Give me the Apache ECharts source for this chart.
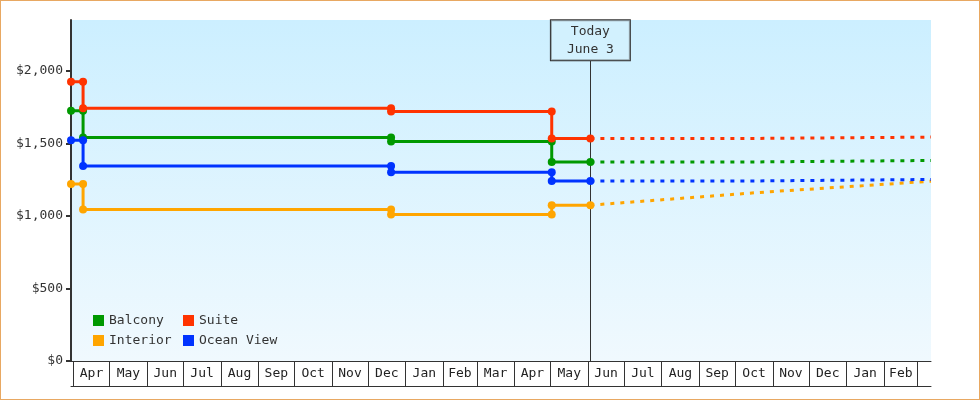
<!DOCTYPE html>
<html lang="en">
  <head>
    <meta charset="UTF-8" />
    <title>Cabin prices</title>
    <style>
      html,
      body {
        margin: 0;
        padding: 0;
        background: #fff;
      }
      .wrap {
        position: relative;
        width: 980px;
        height: 400px;
      }
      #chart {
        width: 980px;
        height: 400px;
      }
      .frame {
        position: absolute;
        left: 0;
        top: 0;
        width: 980px;
        height: 400px;
        box-sizing: border-box;
        border: 1px solid #e8a862;
        pointer-events: none;
      }
    </style>
  </head>
  <body>
    <div class="wrap">
      <div id="chart"></div>
      <div class="frame"></div>
    </div>
    <script src="https://cdn.jsdelivr.net/npm/echarts@6/dist/echarts.min.js"></script>
    <script>
      // price history (step changes) up to today
      const priceDates = ["2021-03-30", "2021-04-09", "2021-04-09", "2021-12-20", "2021-12-20", "2022-05-02", "2022-05-02", "2022-06-03"];
      const balcony = [1724, 1724, 1541, 1541, 1513, 1513, 1372, 1372];
      const suite = [1924, 1924, 1741, 1741, 1720, 1720, 1534, 1534];
      const interior = [1219, 1219, 1044, 1044, 1010, 1010, 1074, 1074];
      const oceanView = [1522, 1522, 1343, 1343, 1301, 1301, 1241, 1241];

      // projection after today (dotted)
      const forecastDates = ["2022-06-03", "2022-10-20", "2022-10-21", "2023-03-12"];
      const balconyFc = [1372, 1372, 1382, 1382];
      const suiteFc = [1534, 1534, 1543, 1543];
      const interiorFc = [1074, 1161, 1161, 1239];
      const oceanViewFc = [1241, 1241, 1251, 1251];

      const today = "2022-06-03";
      const xStart = "2021-03-30";
      const xEnd = "2023-03-12";
      const yTicks = [0, 500, 1000, 1500, 2000];
      const monthNames = ["Jan", "Feb", "Mar", "Apr", "May", "Jun", "Jul", "Aug", "Sep", "Oct", "Nov", "Dec"];

      const font = "DejaVu Sans Mono";
      const ink = "#333";

      function ts(s) {
        const p = s.split("-").map(Number);
        return new Date(p[0], p[1] - 1, p[2]).getTime();
      }

      // month boundaries Apr 2021 .. Mar 2023, labels centred in each box
      const monthStarts = [];
      for (let i = 0; i < 24; i++) monthStarts.push(new Date(2021, 3 + i, 1).getTime());
      const monthMids = [];
      for (let i = 0; i < monthStarts.length - 1; i++) monthMids.push((monthStarts[i] + monthStarts[i + 1]) / 2);

      const zip = (xs, ys) => xs.map((x, i) => [ts(x), ys[i]]);

      const names = ["Balcony", "Suite", "Interior", "Ocean View"];
      const colors = ["#009900", "#ff3300", "#ffa500", "#0033ff"];
      const actual = [balcony, suite, interior, oceanView];
      const projected = [balconyFc, suiteFc, interiorFc, oceanViewFc];

      const series = [];
      names.forEach((name, i) => {
        series.push({
          name: name,
          type: "line",
          data: zip(priceDates, actual[i]),
          color: colors[i],
          symbol: "circle",
          symbolSize: 8,
          lineStyle: { width: 3 },
          clip: false,
          z: 5,
        });
      });
      names.forEach((name, i) => {
        series.push({
          name: name,
          type: "line",
          data: zip(forecastDates, projected[i]),
          color: colors[i],
          symbol: "none",
          lineStyle: { width: 3, type: [4, 6] },
          clip: false,
          z: 3,
        });
      });
      // today marker
      series.push({
        type: "line",
        data: [],
        silent: true,
        z: 2,
        markLine: {
          symbol: "none",
          silent: true,
          lineStyle: { color: ink, width: 1, type: "solid" },
          label: {
            position: "end",
            distance: 0,
            formatter: "Today\nJune 3",
            color: ink,
            fontFamily: font,
            fontSize: 13,
            lineHeight: 18,
            padding: [2, 16],
            borderColor: ink,
            borderWidth: 1,
            backgroundColor: "rgba(214,241,253,0.6)",
          },
          data: [[{ coord: [ts(today), 0] }, { coord: [ts(today), 2072] }]],
        },
      });

      const chart = echarts.init(document.getElementById("chart"));
      chart.setOption({
        animation: false,
        grid: {
          left: 71,
          top: 20,
          right: 49,
          bottom: 39,
          show: true,
          borderWidth: 0,
          backgroundColor: {
            type: "linear",
            x: 0,
            y: 0,
            x2: 0,
            y2: 1,
            colorStops: [
              { offset: 0, color: "#ccefff" },
              { offset: 1, color: "#f0f9fe" },
            ],
          },
        },
        legend: {
          data: names,
          left: 93,
          top: 314,
          padding: 0,
          width: 200,
          itemWidth: 11,
          itemHeight: 11,
          itemGap: 7,
          icon: "rect",
          textStyle: { fontFamily: font, fontSize: 13, color: ink, width: 67, lineHeight: 12 },
        },
        xAxis: [
          {
            type: "value",
            min: ts(xStart),
            max: ts(xEnd),
            axisLine: { show: true, lineStyle: { color: ink, width: 1 } },
            axisTick: { show: true, customValues: monthStarts, length: 25, lineStyle: { color: ink, width: 1 } },
            axisLabel: {
              customValues: monthMids,
              formatter: (v) => monthNames[new Date(v).getMonth()],
              margin: 6,
              fontFamily: font,
              fontSize: 13,
              color: "#222",
            },
            splitLine: { show: false },
          },
          {
            type: "value",
            min: ts(xStart),
            max: ts(xEnd),
            position: "bottom",
            offset: 25,
            axisLine: { show: true, lineStyle: { color: ink, width: 1 } },
            axisTick: { show: false },
            axisLabel: { show: false },
            splitLine: { show: false },
          },
        ],
        yAxis: {
          type: "value",
          min: 0,
          max: 2350,
          axisLine: { show: true, lineStyle: { color: ink, width: 2 } },
          axisTick: { show: true, customValues: yTicks, length: 5, lineStyle: { color: ink, width: 2 } },
          axisLabel: {
            customValues: yTicks,
            formatter: (v) => "$" + v.toLocaleString("en-US"),
            margin: 8,
            fontFamily: font,
            fontSize: 13,
            color: ink,
          },
          splitLine: { show: false },
        },
        series: series,
      });
    </script>
  </body>
</html>
